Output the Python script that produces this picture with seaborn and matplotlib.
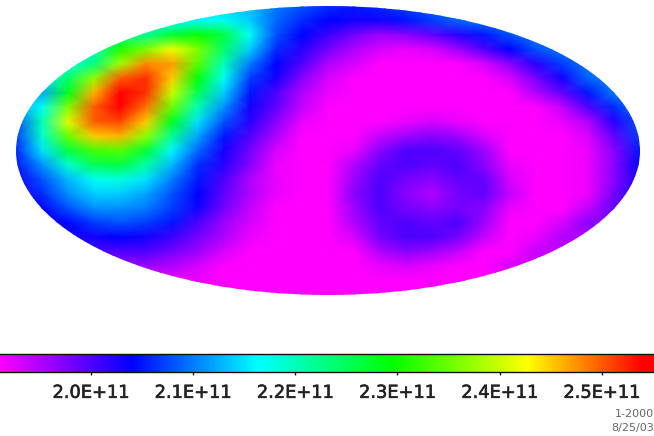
import matplotlib
matplotlib.use("Agg")
import matplotlib.patheffects as path_effects
import matplotlib.pyplot as plt
import numpy as np
import seaborn as sns
from matplotlib.colors import LinearSegmentedColormap
from matplotlib.patches import Ellipse

# map values in units of 1E+11, read row by row (top to bottom, left to right)
row_00 = [2.14, 2.14, 2.14, 2.14, 2.14, 2.14, 2.14, 2.14, 2.14, 2.13, 2.10, 2.08, 2.06, 2.05, 2.06, 2.07, 2.09, 2.10, 2.10, 2.10, 2.10, 2.10, 2.10, 2.10, 2.10]
row_01 = [2.16, 2.16, 2.16, 2.16, 2.16, 2.16, 2.16, 2.16, 2.17, 2.14, 2.09, 2.06, 2.04, 2.03, 2.03, 2.05, 2.07, 2.09, 2.10, 2.10, 2.10, 2.10, 2.10, 2.10, 2.10]
row_02 = [2.22, 2.22, 2.22, 2.22, 2.22, 2.22, 2.27, 2.30, 2.26, 2.17, 2.08, 2.04, 2.01, 1.98, 1.96, 1.97, 1.99, 2.02, 2.05, 2.08, 2.10, 2.10, 2.10, 2.10, 2.10]
row_03 = [2.20, 2.20, 2.20, 2.20, 2.31, 2.36, 2.42, 2.36, 2.24, 2.14, 2.06, 2.02, 1.98, 1.95, 1.93, 1.92, 1.93, 1.96, 2.00, 2.04, 2.08, 2.10, 2.10, 2.10, 2.10]
row_04 = [2.18, 2.18, 2.18, 2.23, 2.38, 2.48, 2.47, 2.34, 2.20, 2.10, 2.04, 2.00, 1.95, 1.93, 1.91, 1.91, 1.91, 1.91, 1.93, 1.97, 2.02, 2.07, 2.10, 2.10, 2.10]
row_05 = [2.16, 2.16, 2.24, 2.37, 2.50, 2.52, 2.45, 2.29, 2.17, 2.07, 2.03, 1.97, 1.93, 1.91, 1.91, 1.91, 1.91, 1.91, 1.91, 1.93, 1.98, 2.03, 2.09, 2.10, 2.10]
row_06 = [2.12, 2.12, 2.28, 2.46, 2.54, 2.52, 2.40, 2.25, 2.14, 2.05, 2.00, 1.95, 1.92, 1.91, 1.91, 1.91, 1.91, 1.91, 1.91, 1.91, 1.95, 1.99, 2.05, 2.10, 2.10]
row_07 = [2.12, 2.17, 2.36, 2.50, 2.54, 2.49, 2.35, 2.20, 2.11, 2.03, 1.99, 1.94, 1.91, 1.91, 1.91, 1.91, 1.91, 1.91, 1.91, 1.91, 1.91, 1.94, 2.00, 2.06, 2.10]
row_08 = [2.08, 2.20, 2.41, 2.50, 2.51, 2.45, 2.28, 2.15, 2.08, 2.02, 1.97, 1.92, 1.91, 1.91, 1.91, 1.92, 1.93, 1.92, 1.91, 1.91, 1.91, 1.92, 1.95, 2.02, 2.08]
row_09 = [2.07, 2.19, 2.35, 2.45, 2.46, 2.37, 2.22, 2.12, 2.05, 2.00, 1.95, 1.91, 1.91, 1.91, 1.94, 1.96, 1.97, 1.96, 1.93, 1.91, 1.91, 1.91, 1.93, 1.99, 2.07]
row_10 = [2.06, 2.15, 2.26, 2.33, 2.34, 2.27, 2.16, 2.09, 2.03, 1.98, 1.93, 1.91, 1.91, 1.92, 1.97, 2.00, 2.00, 1.99, 1.96, 1.91, 1.91, 1.91, 1.92, 1.97, 2.05]
row_11 = [2.05, 2.11, 2.19, 2.25, 2.26, 2.21, 2.13, 2.06, 2.02, 1.97, 1.92, 1.91, 1.91, 1.95, 1.99, 2.00, 1.99, 2.00, 1.97, 1.92, 1.91, 1.91, 1.92, 1.97, 2.04]
row_12 = [2.03, 2.08, 2.13, 2.17, 2.18, 2.15, 2.10, 2.05, 2.00, 1.95, 1.92, 1.91, 1.91, 1.96, 2.00, 1.98, 1.97, 1.99, 1.99, 1.93, 1.91, 1.91, 1.92, 1.97, 2.03]
row_13 = [2.02, 2.06, 2.11, 2.14, 2.14, 2.12, 2.08, 2.04, 1.99, 1.95, 1.92, 1.91, 1.91, 1.97, 2.00, 1.97, 1.95, 1.98, 1.99, 1.94, 1.91, 1.91, 1.92, 1.98, 2.03]
row_14 = [2.04, 2.04, 2.08, 2.11, 2.11, 2.10, 2.07, 2.03, 1.98, 1.94, 1.91, 1.91, 1.91, 1.96, 2.00, 1.98, 1.97, 1.98, 1.97, 1.92, 1.91, 1.91, 1.94, 1.99, 1.99]
row_15 = [2.04, 2.04, 2.04, 2.07, 2.08, 2.07, 2.05, 2.00, 1.96, 1.93, 1.91, 1.91, 1.91, 1.95, 1.99, 2.00, 1.99, 2.00, 1.96, 1.91, 1.91, 1.93, 1.97, 1.97, 1.97]
row_16 = [2.03, 2.03, 2.03, 2.03, 2.04, 2.03, 2.01, 1.98, 1.95, 1.92, 1.91, 1.91, 1.91, 1.93, 1.98, 2.00, 2.00, 1.98, 1.94, 1.91, 1.92, 1.95, 1.95, 1.95, 1.95]
row_17 = [2.00, 2.00, 2.00, 2.00, 2.00, 2.00, 1.98, 1.96, 1.93, 1.91, 1.91, 1.91, 1.91, 1.91, 1.95, 1.97, 1.96, 1.94, 1.91, 1.91, 1.94, 1.94, 1.94, 1.94, 1.94]
row_18 = [1.96, 1.96, 1.96, 1.96, 1.96, 1.96, 1.95, 1.93, 1.91, 1.91, 1.91, 1.91, 1.91, 1.91, 1.92, 1.93, 1.92, 1.91, 1.91, 1.93, 1.93, 1.93, 1.93, 1.93, 1.93]
row_19 = [1.92, 1.92, 1.92, 1.92, 1.92, 1.92, 1.92, 1.92, 1.91, 1.91, 1.91, 1.91, 1.91, 1.91, 1.91, 1.91, 1.91, 1.91, 1.91, 1.91, 1.91, 1.91, 1.91, 1.91, 1.91]
row_20 = [1.91, 1.91, 1.91, 1.91, 1.91, 1.91, 1.91, 1.91, 1.91, 1.91, 1.91, 1.91, 1.91, 1.91, 1.91, 1.91, 1.91, 1.91, 1.91, 1.91, 1.91, 1.91, 1.91, 1.91, 1.91]

all_rows = [row_00, row_01, row_02, row_03, row_04, row_05, row_06, row_07, row_08, row_09, row_10,
            row_11, row_12, row_13, row_14, row_15, row_16, row_17, row_18, row_19, row_20]

bar_ticks = [2.0, 2.1, 2.2, 2.3, 2.4, 2.5]
bar_labels = ["2.0E+11", "2.1E+11", "2.2E+11", "2.3E+11", "2.4E+11", "2.5E+11"]
value_min = 1.909
value_max = 2.553

# rainbow going magenta -> blue -> cyan -> green -> yellow -> red
stops = [(0.0, "#ff00ff"), (0.203, "#0000ff"), (0.395, "#00ffff"), (0.6, "#00ff00"),
         (0.806, "#ffff00"), (0.98, "#ff0000"), (1.0, "#ff0000")]
rainbow = LinearSegmentedColormap.from_list("rainbow_map", stops, N=512)

W, H = 654, 436
fig = plt.figure(figsize=(W / 100, H / 100), dpi=100)

# ellipse bounding box in pixels: x 16-640, y 6-295
ax = fig.add_axes([16 / W, 1 - 295 / H, 624 / W, 289 / H])
cax = fig.add_axes([-2 / W, 1 - 372 / H, 658 / W, 18 / H])

sns.heatmap(np.array(all_rows), ax=ax, cmap=rainbow, vmin=value_min, vmax=value_max,
            xticklabels=False, yticklabels=False, shading="gouraud", cbar_ax=cax,
            cbar_kws={"orientation": "horizontal", "ticks": bar_ticks})
ax.set_xlim(0, 24)
ax.set_ylim(20, 0)
ax.set_axis_off()

# cut the map to the sky ellipse
outline = Ellipse((12, 10), 24, 20, transform=ax.transData)
ax.collections[0].set_clip_path(outline)

cbar = ax.collections[0].colorbar
cbar.outline.set_linewidth(1.0)
cbar.outline.set_edgecolor("#101010")
cbar.set_ticklabels(bar_labels)
cax.tick_params(axis="x", length=2.5, width=1, color="#222222", pad=6, labelcolor="#222222")
# labels look heavier in the original, a thin stroke gets close
heavy = [path_effects.withStroke(linewidth=0.5, foreground="#333333")]
for label in cax.get_xticklabels():
    label.set_fontfamily("DejaVu Sans")
    label.set_fontsize(12.8)
    label.set_path_effects(heavy)

fig.text(654 / W, 1 - 414 / H, "1-2000", ha="right", va="center", fontsize=8,
         color="#666666", family="DejaVu Sans")
fig.text(654 / W, 1 - 428 / H, "8/25/03", ha="right", va="center", fontsize=8,
         color="#666666", family="DejaVu Sans")

fig.savefig("out.png", dpi=100)
